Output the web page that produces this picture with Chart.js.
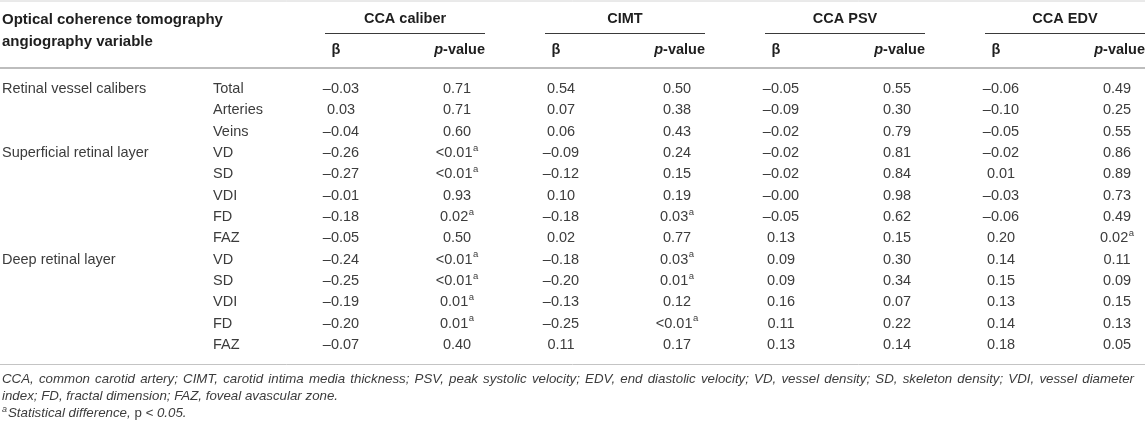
<!DOCTYPE html>
<html>
<head>
<meta charset="utf-8">
<script src="https://cdn.jsdelivr.net/npm/chart.js@4.4.1/dist/chart.umd.min.js"></script>
<style>
  html, body { margin: 0; padding: 0; background: #fff; }
  #wrap { width: 1145px; height: 431px; position: relative; }
</style>
</head>
<body>
<div id="wrap"><canvas id="tabela"></canvas></div>
<script>
  // dados da tabela
  const groups = ['CCA caliber', 'CIMT', 'CCA PSV', 'CCA EDV'];
  const layers = ['Retinal vessel calibers', '', '', 'Superficial retinal layer', '', '', '', '', 'Deep retinal layer', '', '', '', ''];
  const variables = ['Total', 'Arteries', 'Veins', 'VD', 'SD', 'VDI', 'FD', 'FAZ', 'VD', 'SD', 'VDI', 'FD', 'FAZ'];

  const betaCaliber = ['–0.03', '0.03', '–0.04', '–0.26', '–0.27', '–0.01', '–0.18', '–0.05', '–0.24', '–0.25', '–0.19', '–0.20', '–0.07'];
  const pCaliber = ['0.71', '0.71', '0.60', '<0.01a', '<0.01a', '0.93', '0.02a', '0.50', '<0.01a', '<0.01a', '0.01a', '0.01a', '0.40'];
  const betaCimt = ['0.54', '0.07', '0.06', '–0.09', '–0.12', '0.10', '–0.18', '0.02', '–0.18', '–0.20', '–0.13', '–0.25', '0.11'];
  const pCimt = ['0.50', '0.38', '0.43', '0.24', '0.15', '0.19', '0.03a', '0.77', '0.03a', '0.01a', '0.12', '<0.01a', '0.17'];
  const betaPsv = ['–0.05', '–0.09', '–0.02', '–0.02', '–0.02', '–0.00', '–0.05', '0.13', '0.09', '0.09', '0.16', '0.11', '0.13'];
  const pPsv = ['0.55', '0.30', '0.79', '0.81', '0.84', '0.98', '0.62', '0.15', '0.30', '0.34', '0.07', '0.22', '0.14'];
  const betaEdv = ['–0.06', '–0.10', '–0.05', '–0.02', '0.01', '–0.03', '–0.06', '0.20', '0.14', '0.15', '0.13', '0.14', '0.18'];
  const pEdv = ['0.49', '0.25', '0.55', '0.86', '0.89', '0.73', '0.49', '0.02a', '0.11', '0.09', '0.15', '0.13', '0.05'];

  const footnotes = [
    'CCA, common carotid artery; CIMT, carotid intima media thickness; PSV, peak systolic velocity; EDV, end diastolic velocity; VD, vessel density; SD, skeleton density; VDI, vessel diameter',
    'index; FD, fractal dimension; FAZ, foveal avascular zone.'
  ];

  const betaCols = [betaCaliber, betaCimt, betaPsv, betaEdv];
  const pCols = [pCaliber, pCimt, pPsv, pEdv];

  // id unico de cada linha (VD, SD... aparecem duas vezes)
  let camada = '';
  const rowIds = variables.map((v, i) => {
    if (layers[i]) camada = layers[i];
    return camada + ' / ' + v;
  });

  const FONT = '"Liberation Sans", Arial, Helvetica, sans-serif';
  const BETA_SHIFT = -64;
  const P_SHIFT = 52;

  const datasets = [];
  groups.forEach((g, gi) => {
    datasets.push({
      label: g + ' β', kind: 'beta', texts: betaCols[gi],
      data: rowIds.map(r => ({ x: g, y: r })), pointRadius: 0
    });
    datasets.push({
      label: g + ' p-value', kind: 'p', texts: pCols[gi],
      data: rowIds.map(r => ({ x: g, y: r })), pointRadius: 0
    });
  });

  function drawCell(ctx, txt, cx, cy) {
    let main = txt, sup = '';
    if (txt.endsWith('a')) { main = txt.slice(0, -1); sup = 'a'; }
    ctx.font = '14.5px ' + FONT;
    const wm = ctx.measureText(main).width;
    ctx.font = '9.5px ' + FONT;
    const ws = sup ? ctx.measureText(sup).width + 0.5 : 0;
    const x0 = cx - (wm + ws) / 2;
    ctx.textAlign = 'left';
    ctx.textBaseline = 'middle';
    ctx.font = '14.5px ' + FONT;
    ctx.fillText(main, x0, cy);
    if (sup) {
      ctx.font = '9.5px ' + FONT;
      ctx.fillText(sup, x0 + wm + 0.5, cy - 5);
    }
  }

  // linha justificada: espaco extra distribuido entre as palavras
  function justify(ctx, txt, x, y, width) {
    const words = txt.split(' ');
    const total = words.reduce((s, w) => s + ctx.measureText(w).width, 0);
    const gap = (width - total) / (words.length - 1);
    let xx = x;
    words.forEach(w => {
      ctx.fillText(w, xx, y);
      xx += ctx.measureText(w).width + gap;
    });
  }

  function hLine(ctx, x1, x2, y, w, color) {
    ctx.strokeStyle = color;
    ctx.lineWidth = w;
    ctx.beginPath();
    ctx.moveTo(x1, y);
    ctx.lineTo(x2, y);
    ctx.stroke();
  }

  const tablePlugin = {
    id: 'tablePlugin',
    afterDraw(chart) {
      const ctx = chart.ctx;
      const xs = chart.scales.x;
      const ys = chart.scales.y;
      const W = chart.width;
      ctx.save();

      // linhas horizontais
      hLine(ctx, 0, W, 1, 1, '#d4d4d4');
      hLine(ctx, 0, W, 68, 2, '#bdbdbd');
      hLine(ctx, 0, W, 364.5, 1, '#c4c4c4');

      // cabecalho
      ctx.fillStyle = '#1e1e1e';
      ctx.textBaseline = 'middle';
      ctx.textAlign = 'left';
      ctx.font = 'bold 15px ' + FONT;
      ctx.fillText('Optical coherence tomography', 2, 20);
      ctx.fillText('angiography variable', 2, 42);

      groups.forEach((g, gi) => {
        const gx = xs.getPixelForValue(gi);
        ctx.font = 'bold 14.5px ' + FONT;
        ctx.textAlign = 'center';
        ctx.fillStyle = '#1e1e1e';
        ctx.fillText(g, gx, 19);
        hLine(ctx, gx - 80, gx + 80, 33.5, 1, '#3a3a3a');
        // sub-cabecalhos
        ctx.fillText('β', gx - 69, 50);
        const wv = ctx.measureText('-value').width;
        ctx.font = 'italic bold 14.5px ' + FONT;
        const wp = ctx.measureText('p').width;
        const right = gx + 80;
        ctx.textAlign = 'left';
        ctx.fillText('p', right - wv - wp, 50);
        ctx.font = 'bold 14.5px ' + FONT;
        ctx.fillText('-value', right - wv, 50);
      });

      // rotulos das linhas
      ctx.fillStyle = '#3c3c3c';
      ctx.font = '14.5px ' + FONT;
      ctx.textAlign = 'left';
      variables.forEach((v, i) => {
        const y = ys.getPixelForValue(i);
        if (layers[i]) ctx.fillText(layers[i], 2, y);
        ctx.fillText(v, 213, y);
      });

      // celulas
      chart.data.datasets.forEach((ds, di) => {
        const meta = chart.getDatasetMeta(di);
        meta.data.forEach((pt, i) => {
          const shift = ds.kind === 'beta' ? BETA_SHIFT : P_SHIFT;
          drawCell(ctx, ds.texts[i], pt.x + shift, pt.y);
        });
      });

      // notas de rodape
      ctx.fillStyle = '#3c3c3c';
      ctx.textAlign = 'left';
      ctx.font = 'italic 13.3px ' + FONT;
      justify(ctx, footnotes[0], 2, 379, 1132);
      ctx.fillText(footnotes[1], 2, 396);
      ctx.font = 'italic 9px ' + FONT;
      ctx.fillText('a', 2, 409);
      ctx.font = 'italic 13.3px ' + FONT;
      const t1 = 'Statistical difference, ';
      ctx.fillText(t1, 8, 413);
      let xx = 8 + ctx.measureText(t1).width;
      ctx.font = '13.3px ' + FONT;
      ctx.fillText('p', xx, 413);
      xx += ctx.measureText('p').width;
      ctx.font = 'italic 13.3px ' + FONT;
      ctx.fillText(' < 0.05.', xx, 413);

      ctx.restore();
    }
  };

  const ctx = document.getElementById('tabela').getContext('2d');
  new Chart(ctx, {
    type: 'scatter',
    data: { datasets: datasets },
    options: {
      responsive: true,
      maintainAspectRatio: false,
      animation: false,
      layout: { padding: { left: 405, right: 80, top: 89, bottom: 86 } },
      plugins: { legend: { display: false }, tooltip: { enabled: false } },
      scales: {
        x: { type: 'category', labels: groups, offset: false, display: false },
        y: { type: 'category', labels: rowIds, offset: false, display: false }
      }
    },
    plugins: [tablePlugin]
  });
</script>
</body>
</html>
